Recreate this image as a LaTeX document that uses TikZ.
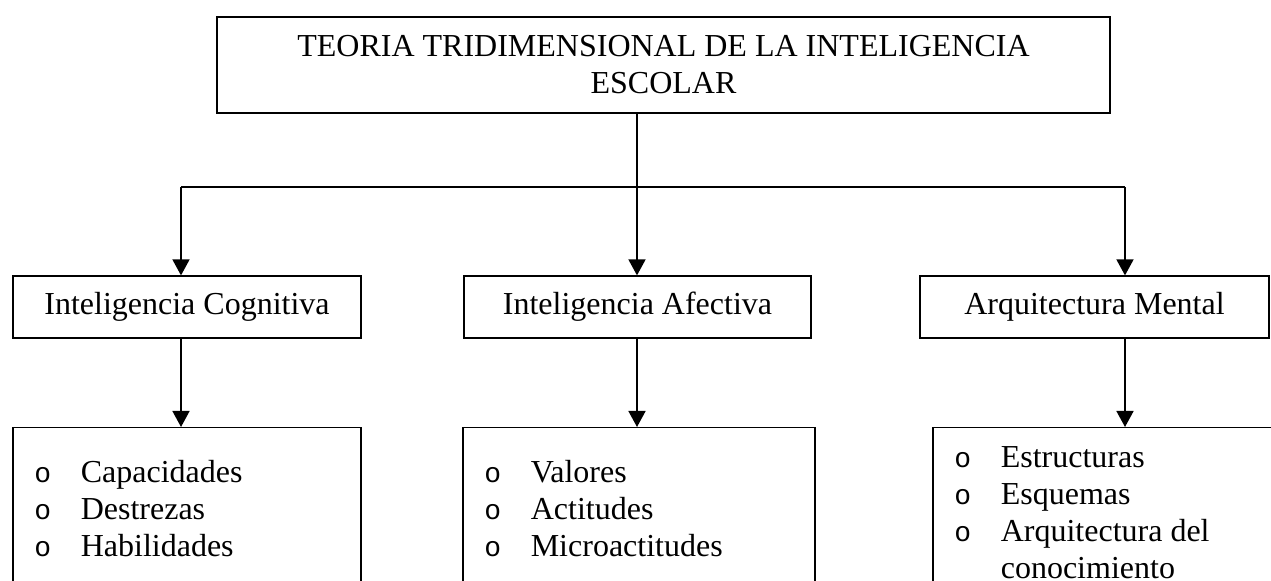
\documentclass[tikz,border=0pt]{standalone}
\usepackage{fontspec}
\setmainfont{Liberation Serif}
\newfontfamily\bulletfont{Liberation Mono}
\usetikzlibrary{arrows.meta}
\newcommand{\bul}[1]{\makebox[30pt]{\bulletfont\fontsize{14}{14}\selectfont o}\hspace{4pt}#1}

\begin{document}
\begin{tikzpicture}[x=0.5pt,y=-0.5pt,
        box/.style={draw,line width=0.6pt,inner sep=0pt,minimum height=31pt},
        link/.style={line width=0.8pt,-{Triangle[length=8pt,width=8.5pt]}},
        font=\fontsize{16}{18.5}\selectfont]
        \useasboundingbox (0,0) rectangle (1271,581);
        \clip (0,0) rectangle (1271,581);

        \node[box,minimum width=446.5pt,minimum height=48pt,align=center] (teoria) at (663.5,65) {TEORIA TRIDIMENSIONAL DE LA INTELIGENCIA\\ESCOLAR};

        \node[box,minimum width=174pt] (cog) at (187,307) {Inteligencia Cognitiva};
        \node[box,minimum width=173.5pt] (afe) at (637.5,307) {Inteligencia Afectiva};
        \node[box,minimum width=174.5pt] (arq) at (1094.5,307) {Arquitectura Mental};

        \node[box,anchor=north,minimum width=174pt,minimum height=90pt] (cogl) at (187,427) {};
        \node[box,anchor=north,minimum width=176pt,minimum height=90pt] (afel) at (639,427) {};
        \node[box,anchor=north,minimum width=180pt,minimum height=90pt] (arql) at (1113,427) {};

        \node[anchor=north west,inner sep=0pt,align=left] (cogt) at ([yshift=-16.5pt]cogl.north west) {\bul{Capacidades}\\\bul{Destrezas}\\\bul{Habilidades}};
        \node[anchor=north west,inner sep=0pt,align=left] (afet) at ([yshift=-16.5pt]afel.north west) {\bul{Valores}\\\bul{Actitudes}\\\bul{Microactitudes}};
        \node[anchor=north west,inner sep=0pt,align=left] (arqt) at ([yshift=-9.5pt]arql.north west) {\bul{Estructuras}\\\bul{Esquemas}\\\bul{Arquitectura del}\\\makebox[34pt]{}conocimiento};

        \coordinate (busl) at (181,187);
        \coordinate (busm) at (637,187);
        \coordinate (busr) at (1125,187);

        \draw[line width=0.8pt] (teoria.south -| busm) -- (busm);
        \draw[line width=0.8pt] (busl) -- (busr);
        \draw[link] (busl) -- (busl |- cog.north);
        \draw[link] (busm) -- (busm |- afe.north);
        \draw[link] (busr) -- (busr |- arq.north);

        \draw[link] (cog.south -| busl) -- (busl |- cogl.north);
        \draw[link] (afe.south -| busm) -- (busm |- afel.north);
        \draw[link] (arq.south -| busr) -- (busr |- arql.north);
    \end{tikzpicture}
\end{document}
